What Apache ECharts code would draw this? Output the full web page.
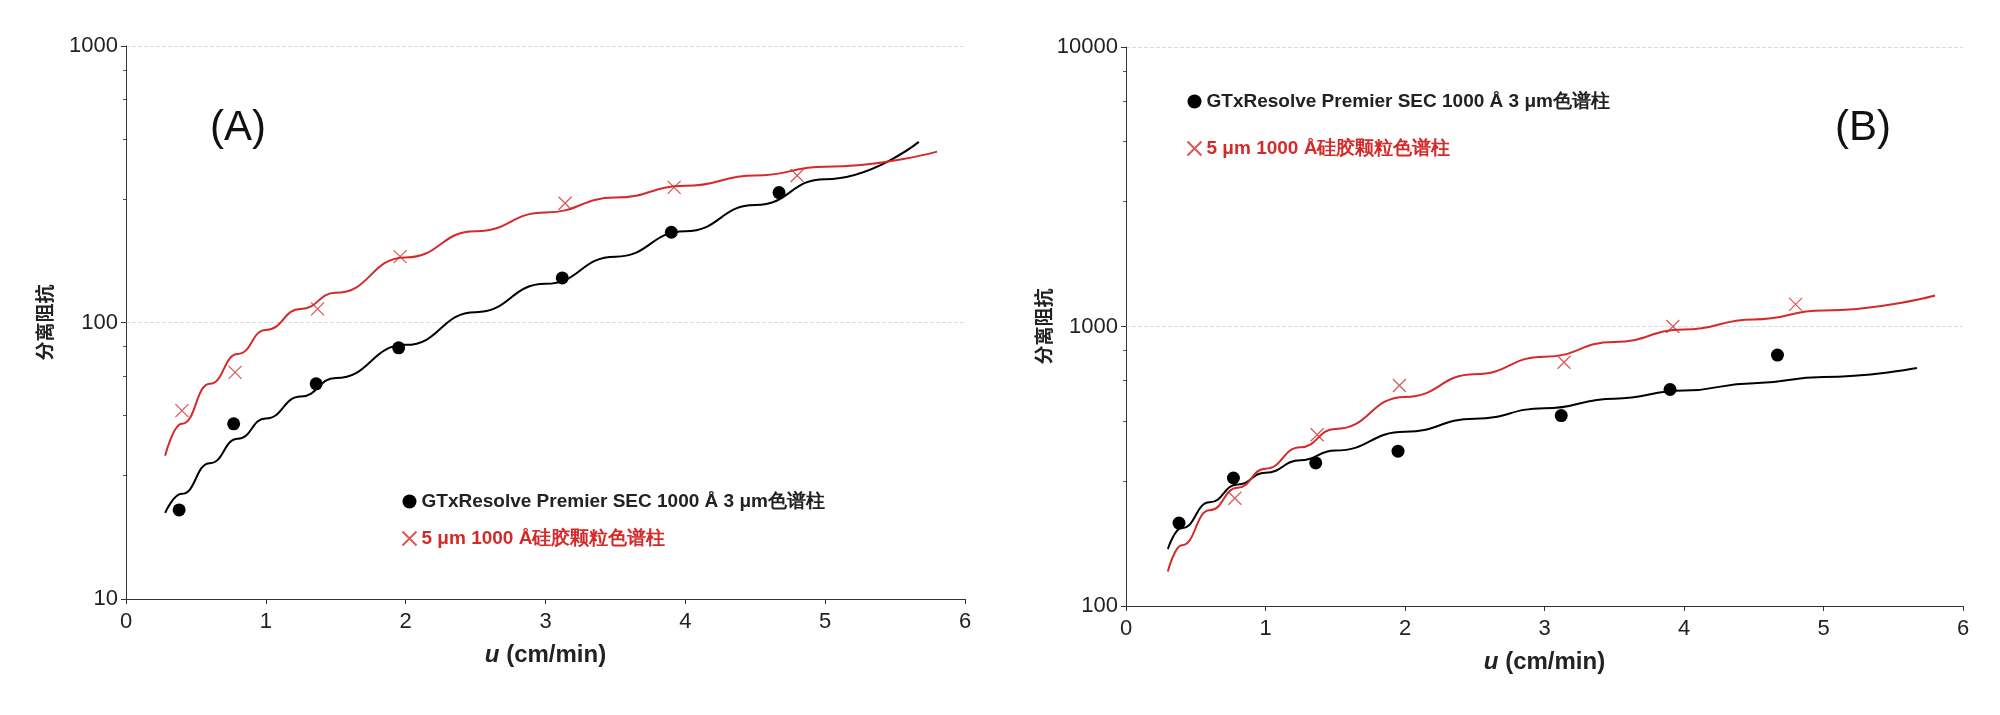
<!DOCTYPE html><html><head><meta charset="utf-8"><script src="https://cdn.jsdelivr.net/npm/echarts@6/dist/echarts.min.js"></script></head><body style="margin:0;background:#fff"><div id="c" style="width:2000px;height:715px"></div><script>
const nameBlack='GTxResolve Premier SEC 1000 Å 3 μm色谱柱';
const nameRed='5 μm 1000 Å硅胶颗粒色谱柱';
const aBlackPts=[[0.38,21],[0.77,43],[1.36,60],[1.95,81],[3.12,145],[3.9,212],[4.67,295]];
const aRedPts=[[0.4,48],[0.78,66],[1.37,112],[1.96,173],[3.14,270],[3.92,308],[4.8,340]];
const aBlackFit=[[0.28,20.5],[0.4,24],[0.6,31],[0.8,38],[1,45],[1.25,54],[1.5,63],[2,83],[2.5,109],[3,138],[3.5,173],[4,214],[4.5,266],[5,330],[5.67,450]];
const aRedFit=[[0.28,33],[0.4,43],[0.6,60],[0.8,77],[1,94],[1.25,112],[1.5,128],[2,172],[2.5,214],[3,250],[3.5,283],[4,312],[4.5,340],[5,366],[5.8,415]];
const bBlackPts=[[0.38,198],[0.77,287],[1.36,325],[1.95,358],[3.12,480],[3.9,595],[4.67,790]];
const bRedPts=[[0.78,243],[1.37,410],[1.96,615],[3.14,745],[3.92,1000],[4.8,1200]];
const bBlackFit=[[0.3,160],[0.4,190],[0.6,235],[0.8,272],[1,300],[1.25,332],[1.5,360],[2,420],[2.5,468],[3,510],[3.5,552],[4,590],[4.5,627],[5,660],[5.67,710]];
const bRedFit=[[0.3,133],[0.4,165],[0.6,220],[0.8,265],[1,310],[1.25,370],[1.5,430],[2,560],[2.5,675],[3,780],[3.5,880],[4,975],[4.5,1060],[5,1140],[5.8,1290]];
const RED='#d42a2a';
function xAx(i){return {type:'value',gridIndex:i,min:0,max:6,interval:1,name:'{i|u} (cm/min)',nameLocation:'middle',nameGap:44,
 nameTextStyle:{fontSize:24,fontWeight:'bold',color:'#222',fontFamily:'Liberation Sans',rich:{i:{fontStyle:'italic',fontSize:24,fontWeight:'bold',fontFamily:'Liberation Sans'}}},
 axisLine:{lineStyle:{color:'#333'}},axisTick:{length:5,lineStyle:{color:'#333'}},axisLabel:{fontSize:22,color:'#222',fontFamily:'Liberation Sans',margin:12},splitLine:{show:false}};}
function yAx(i,min,max){return {type:'log',logBase:10,gridIndex:i,min:min,max:max,name:'分离阻抗',nameLocation:'middle',nameGap:72,nameRotate:90,
 nameTextStyle:{fontSize:19,fontWeight:'bold',color:'#222',fontFamily:'Noto Sans CJK SC'},
 axisLine:{show:true,lineStyle:{color:'#333'}},axisTick:{show:true,length:5,lineStyle:{color:'#333'}},
 minorTick:{show:true,splitNumber:5,length:3,lineStyle:{color:'#555'}},
 axisLabel:{fontSize:22,color:'#222',fontFamily:'Liberation Sans',margin:8,formatter:v=>String(Math.round(v))},splitLine:{show:true,lineStyle:{type:'dashed',color:'#ddd'}}};}
function fit(d,c,i){return {type:'line',xAxisIndex:i,yAxisIndex:i,data:d,smooth:0.5,smoothMonotone:'x',showSymbol:false,symbol:'none',lineStyle:{color:c,width:2},silent:true,z:1};}
function pts(d,n,i,isRed){return {name:n,type:'scatter',xAxisIndex:i,yAxisIndex:i,data:d,symbol:isRed?'path://M0,0L10,10M10,0L0,10':'circle',symbolSize:13,
 itemStyle:isRed?{color:'none',borderColor:RED,borderWidth:1.2}:{color:'#000',opacity:1},z:3};}
const ch=echarts.init(document.getElementById('c'));
ch.setOption({animation:false,
 grid:[{left:126,top:46,width:839,height:553},{left:1126,top:47,width:837,height:559}],
 xAxis:[xAx(0),xAx(1)],yAxis:[yAx(0,10,1000),yAx(1,100,10000)],
 legend:[
  {left:395,top:487,orient:'vertical',itemGap:18,itemWidth:14,itemHeight:14,textStyle:{fontSize:19,fontWeight:'bold',fontFamily:'Liberation Sans'},
   data:[{name:nameBlack,textStyle:{color:'#222'}},{name:nameRed,textStyle:{color:RED}}]},
  {left:1180,top:87,orient:'vertical',itemGap:28,itemWidth:14,itemHeight:14,textStyle:{fontSize:19,fontWeight:'bold',fontFamily:'Liberation Sans'},
   data:[{name:nameBlack,textStyle:{color:'#222'}},{name:nameRed,textStyle:{color:RED}}]}],
 graphic:[{type:'text',left:210,top:107,style:{text:'(A)',fontSize:42,fontFamily:'Liberation Sans',fill:'#111'}},
  {type:'text',left:1835,top:107,style:{text:'(B)',fontSize:42,fontFamily:'Liberation Sans',fill:'#111'}}],
 series:[fit(aBlackFit,'#000',0),fit(aRedFit,RED,0),pts(aBlackPts,nameBlack,0,false),pts(aRedPts,nameRed,0,true),
  fit(bBlackFit,'#000',1),fit(bRedFit,RED,1),pts(bBlackPts,nameBlack,1,false),pts(bRedPts,nameRed,1,true)]
});
</script></body></html>
